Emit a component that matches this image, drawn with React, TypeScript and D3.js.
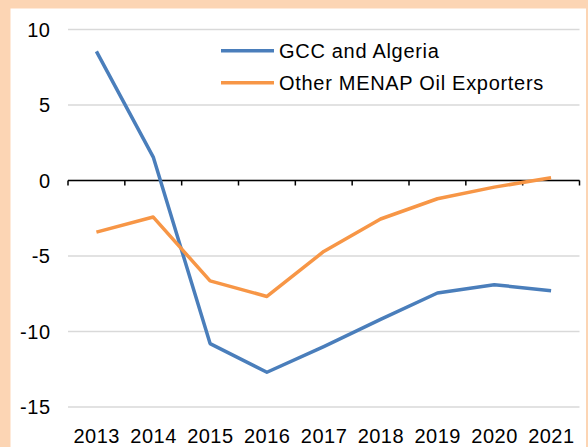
import React from "react";
import * as d3 from "d3";

const years = ["2013", "2014", "2015", "2016", "2017", "2018", "2019", "2020", "2021"];
const gcc = [8.55, 1.55, -10.8, -12.7, -11.0, -9.2, -7.45, -6.9, -7.3];
const other = [-3.42, -2.42, -6.65, -7.68, -4.7, -2.55, -1.21, -0.44, 0.18];
const seriesNames = ["GCC and Algeria", "Other MENAP Oil Exporters"];
const seriesColors = ["#4A7EBB", "#F79646"];
const yTicks = [10, 5, 0, -5, -10, -15];

const W = 588;
const H = 447;
const plotLeft = 68;
const plotRight = 579.5;
const yTop = 29.5;
const yBottom = 407;
const FONT = "'Liberation Sans', Arial, sans-serif";
const FS = 20;

export default function App() {
  const x = d3.scaleBand<string>().domain(years).range([plotLeft, plotRight]).padding(0);
  const y = d3.scaleLinear().domain([-15, 10]).range([yBottom, yTop]);
  const cx = (d: string) => (x(d) as number) + x.bandwidth() / 2;
  const line = d3
    .line<number>()
    .x((_, i) => cx(years[i]))
    .y((v) => y(v));
  const series = [gcc, other];
  const boundaries = years.map((d) => x(d) as number).concat([plotRight]);

  return (
    <svg width={W} height={H} style={{ position: "absolute", left: 0, top: 0 }}>
      <rect x={0} y={0} width={W} height={H} fill="#FCD5B4" />
      <rect x={10.5} y={8.5} width={W - 12.5} height={H} fill="#FFFFFF" />
      {yTicks.map((t) => (
        <line key={"g" + t} x1={plotLeft} x2={plotRight} y1={y(t)} y2={y(t)} stroke="#D9D9D9" strokeWidth={1.5} />
      ))}
      {yTicks.map((t) => (
        <text key={"yl" + t} x={50.5} y={y(t) + 7.2} textAnchor="end" fontFamily={FONT} fontSize={FS} letterSpacing={0.5} fill="#000">
          {t}
        </text>
      ))}
      <line x1={plotLeft} x2={plotRight} y1={y(0)} y2={y(0)} stroke="#000" strokeWidth={1.6} />
      {boundaries.map((b, i) => (
        <line key={"tk" + i} x1={b} x2={b} y1={y(0)} y2={y(0) + 5} stroke="#000" strokeWidth={1.5} />
      ))}
      {years.map((d) => (
        <text key={"xl" + d} x={cx(d) + 0.3} y={443.3} textAnchor="middle" fontFamily={FONT} fontSize={FS} letterSpacing={0.5} fill="#000">
          {d}
        </text>
      ))}
      {series.map((s, i) => (
        <path key={"s" + i} d={line(s) || ""} fill="none" stroke={seriesColors[i]} strokeWidth={3.5} strokeLinejoin="round" />
      ))}
      {seriesNames.map((n, i) => (
        <g key={"lg" + i}>
          <line x1={221} x2={274} y1={50.7 + i * 32} y2={50.7 + i * 32} stroke={seriesColors[i]} strokeWidth={3.5} />
          <text x={279} y={57.9 + i * 32} textAnchor="start" fontFamily={FONT} fontSize={FS} letterSpacing={0.7} fill="#000">
            {n}
          </text>
        </g>
      ))}
    </svg>
  );
}
